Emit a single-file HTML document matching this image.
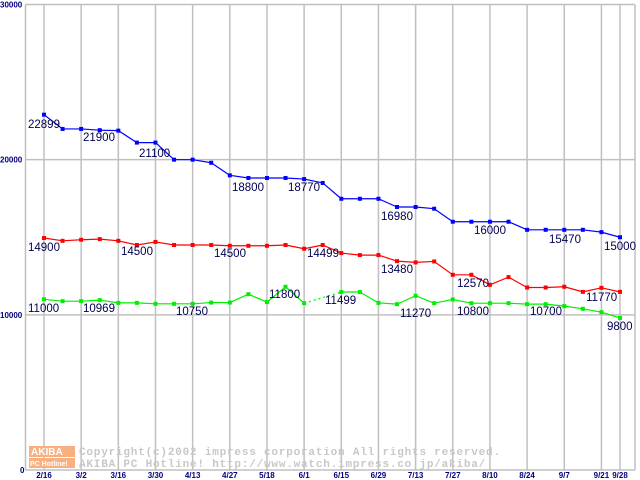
<!DOCTYPE html>
<html><head><meta charset="utf-8"><style>
html,body{margin:0;padding:0;background:#fff}
svg{display:block}
</style></head><body>
<svg id="chart" width="640" height="480" xmlns="http://www.w3.org/2000/svg" font-family="Liberation Sans, sans-serif">
<g id="grid"></g>
<g id="wm">
  <rect x="29" y="446" width="46" height="11" fill="#f8b080"/>
  <text x="31" y="455" font-size="10" font-weight="bold" fill="#fff">AKIBA</text>
  <rect x="29" y="458" width="46" height="10" fill="#f8b080"/>
  <text x="30" y="466" font-size="7" font-weight="bold" fill="#fff">PC Hotline!</text>
  <text x="79" y="455" font-size="11" font-weight="bold" fill="#c8c8c8" font-family="Liberation Mono, monospace" letter-spacing="0.8">Copyright(c)2002 impress corporation All rights reserved.</text>
  <text x="79" y="467" font-size="11" font-weight="bold" fill="#c8c8c8" font-family="Liberation Mono, monospace" letter-spacing="0.8">AKIBA PC Hotline!  http://www.watch.impress.co.jp/akiba/</text>
</g>
<g id="series"></g>
<g id="labels"></g>
</svg>
<script>
const xLabels = ["2/16","3/2","3/16","3/30","4/13","4/27","5/18","6/1","6/15","6/29","7/13","7/27","8/10","8/24","9/7","9/21","9/28"];
const xLabelIdx = [0,2,4,6,8,10,12,14,16,18,20,22,24,26,28,30,31];
const yTicks = [0,10000,20000,30000];
const blueValues = [22899,21980,21980,21900,21870,21100,21100,20000,20000,19800,18990,18820,18820,18820,18750,18500,17480,17480,17480,16950,16950,16840,16000,16000,16000,16000,15480,15480,15480,15480,15330,15000];
const redValues = [14950,14770,14840,14880,14770,14500,14700,14500,14500,14500,14450,14450,14450,14500,14260,14500,13980,13850,13850,13460,13380,13440,12580,12580,11935,12430,11760,11760,11810,11480,11740,11480];
const greenValues = [11000,10880,10880,10950,10770,10770,10710,10710,10710,10790,10790,11330,10820,11810,10750,null,11470,11470,10770,10690,11230,10750,10990,10750,10750,10750,10690,10690,10560,10390,10170,9800];
const blueLabels = [[0,"22899",28,128],[3,"21900",83,141],[5,"21100",139,157],[10,"18800",232,191],[13,"18770",288,191],[19,"16980",381,220],[23,"16000",474,234],[27,"15470",549,243],[31,"15000",604,250]];
const redLabels = [[0,"14900",28,251],[4,"14500",121,255],[9,"14500",214,257],[14,"14499",307,257],[19,"13480",381,273],[22,"12570",457,287],[30,"11770",586,301]];
const greenLabels = [[0,"11000",28,312],[3,"10969",83,312],[7,"10750",176,315],[13,"11800",269,298],[16,"11499",325,304],[20,"11270",400,317],[23,"10800",457,315],[27,"10700",530,315],[31,"9800",607,330]];

const NS="http://www.w3.org/2000/svg";
const X0=44, DX=(620-44)/31, Y0=470, Y1=4.5, YMAX=30000, XL=25.5, XR=635;
function xs(i){return X0+i*DX;}
function ys(v){return Y0-(v/YMAX)*(Y0-Y1);}
function mk(tag,attrs,parent){const e=document.createElementNS(NS,tag);for(const k in attrs)e.setAttribute(k,attrs[k]);parent.appendChild(e);return e;}
const grid=document.getElementById('grid');
yTicks.forEach(v=>{
  const l=mk('line',{x1:XL,x2:XR,y1:ys(v),y2:ys(v),stroke:'#c0c0c0','stroke-width':1.5},grid);
  
  
  const t=mk('text',{x:v===0?20:0,y:ys(v)+3,'font-size':8,'font-weight':'bold',fill:'#000080'},grid);
  
  
  t.textContent=String(v);
});
mk('line',{x1:XL,x2:XL,y1:Y1,y2:Y0,stroke:'#c0c0c0','stroke-width':1.5},grid);
mk('line',{x1:XR,x2:XR,y1:Y1,y2:Y0,stroke:'#c0c0c0','stroke-width':1.5},grid);
xLabelIdx.forEach((idx,k)=>{
  const x=xs(idx);
  const l=mk('line',{x1:x,x2:x,y1:Y1,y2:Y0,stroke:'#c0c0c0','stroke-width':1.5},grid);
  
  
  const t=mk('text',{x:x,y:478,'font-size':8,'font-weight':'bold',fill:'#000080','text-anchor':'middle'},grid);
  
  
  t.textContent=xLabels[k];
});
const ser=document.getElementById('series');
function drawSeries(vals,color,name){
  const g=mk('g',{},ser);
  
  
  let prev=null;
  for(let i=0;i<vals.length;i++){
    if(vals[i]==null)continue;
    if(prev!==null){
      const dashed=(i-prev)>1;
      const ln=mk('line',{x1:xs(prev),y1:ys(vals[prev]),x2:xs(i),y2:ys(vals[i]),stroke:color,'stroke-width':1.2},g);
      if(dashed)ln.setAttribute('stroke-dasharray','2,3');
      
      
    }
    prev=i;
  }
  vals.forEach((v,i)=>{
    if(v==null)return;
    const r=mk('rect',{x:xs(i)-2,y:ys(v)-2,width:4,height:4,fill:color},g);
    
    
  });
}
drawSeries(blueValues,'#0000ff','blue-series');
drawSeries(redValues,'#ff0000','red-series');
drawSeries(greenValues,'#00ee00','green-series');
const lab=document.getElementById('labels');
[blueLabels,redLabels,greenLabels].forEach(arr=>arr.forEach(a=>{
  const t=mk('text',{x:a[2],y:a[3],'font-size':11.5,fill:'#000050'},lab);
  
  
  t.textContent=a[1];
}));
</script>
</body></html>
